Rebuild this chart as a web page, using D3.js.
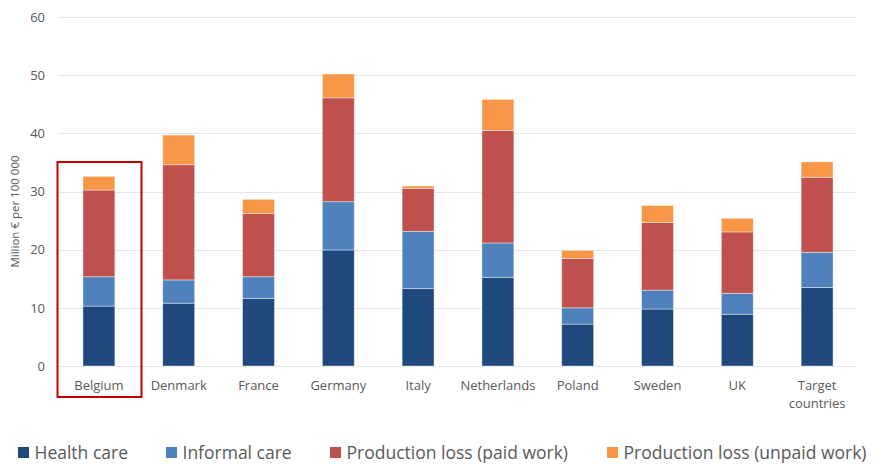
<!DOCTYPE html>
<html>
<head>
<meta charset="utf-8">
<script src="https://cdn.jsdelivr.net/npm/d3@7"></script>
<style>
  html, body { margin: 0; padding: 0; background: #fff; }
  svg { display: block; font-family: "Open Sans", "Liberation Sans", sans-serif; }
</style>
</head>
<body>
<div id="chart"></div>
<script>
// Data (segment values, million € per 100 000)
const categories = ['Belgium', 'Denmark', 'France', 'Germany', 'Italy', 'Netherlands', 'Poland', 'Sweden', 'UK', 'Target countries'];
const healthCare = [10.3, 10.8, 11.6, 19.95, 13.3, 15.25, 7.2, 9.8, 8.9, 13.5];
const informalCare = [5.05, 4.0, 3.75, 8.3, 9.85, 5.9, 2.8, 3.25, 3.6, 6.05];
const paidWork = [14.9, 19.8, 10.9, 17.85, 7.4, 19.35, 8.5, 11.6, 10.55, 12.9];
const unpaidWork = [2.35, 5.1, 2.4, 4.1, 0.4, 5.35, 1.4, 2.95, 2.35, 2.65];
const seriesNames = ['Health care', 'Informal care', 'Production loss (paid work)', 'Production loss (unpaid work)'];
const yTicks = [0, 10, 20, 30, 40, 50, 60];

const W = 873, H = 464;
const margin = { top: 17, right: 16, bottom: 98, left: 59 };
const colors = ['#1f497d', '#4f81bd', '#c0504d', '#f79646'];

const svg = d3.select('#chart').append('svg').attr('width', W).attr('height', H);

const x = d3.scaleBand()
    .domain(categories)
    .range([margin.left, W - margin.right])
    .paddingInner(0.6)
    .paddingOuter(0.3);

const y = d3.scaleLinear()
    .domain([0, 60])
    .range([H - margin.bottom, margin.top]);

// gridlines
svg.append('g')
    .selectAll('line')
    .data(yTicks)
    .join('line')
    .attr('x1', margin.left - 1)
    .attr('x2', W - margin.right - 2)
    .attr('y1', d => Math.round(y(d)) + 0.5)
    .attr('y2', d => Math.round(y(d)) + 0.5)
    .attr('stroke', '#e6e6e6')
    .attr('stroke-width', 1.2);

// y tick labels
svg.append('g')
    .selectAll('text')
    .data(yTicks)
    .join('text')
    .attr('x', 45)
    .attr('y', d => y(d))
    .attr('dy', '0.36em')
    .attr('text-anchor', 'end')
    .attr('font-size', 13)
    .attr('fill', '#595959')
    .text(d => d);

// y axis title
svg.append('text')
    .attr('transform', `translate(19,${(y(0) + y(60)) / 2 + 20}) rotate(-90)`)
    .attr('text-anchor', 'middle')
    .attr('font-size', 11.5)
    .attr('fill', '#595959')
    .text('Million € per 100 000');

// stacked bars
const rows = categories.map((c, i) => ({
    cat: c, s0: healthCare[i], s1: informalCare[i], s2: paidWork[i], s3: unpaidWork[i]
}));
const stack = d3.stack().keys(['s0', 's1', 's2', 's3']);
const layers = stack(rows);

svg.append('g')
    .selectAll('g')
    .data(layers)
    .join('g')
    .attr('fill', (d, i) => colors[i])
    .selectAll('rect')
    .data(d => d)
    .join('rect')
    .attr('x', d => x(d.data.cat))
    .attr('width', x.bandwidth())
    .attr('y', d => y(d[1]))
    .attr('height', d => y(d[0]) - y(d[1]))
    .attr('stroke', '#ffffff')
    .attr('stroke-opacity', 0.5)
    .attr('stroke-width', 0.8);

// x labels
const xl = svg.append('g')
    .selectAll('text')
    .data(categories)
    .join('text')
    .attr('x', d => x(d) + x.bandwidth() / 2)
    .attr('y', 390)
    .attr('text-anchor', 'middle')
    .attr('font-size', 13)
    .attr('fill', '#595959');
xl.each(function (d) {
    const words = d === 'Target countries' ? ['Target', 'countries'] : [d];
    d3.select(this).selectAll('tspan')
        .data(words)
        .join('tspan')
        .attr('x', x(d) + x.bandwidth() / 2)
        .attr('dy', (w, j) => j === 0 ? 0 : 17.5)
        .text(w => w);
});

// highlight box around Belgium
svg.append('rect')
    .attr('x', 57.5)
    .attr('y', 162)
    .attr('width', 84)
    .attr('height', 235)
    .attr('fill', 'none')
    .attr('stroke', '#c00000')
    .attr('stroke-width', 2);

// legend
const legendX = [18, 166, 330, 607];
const lg = svg.append('g')
    .selectAll('g')
    .data(seriesNames)
    .join('g')
    .attr('transform', (d, i) => `translate(${legendX[i]},452.5)`);
lg.append('rect')
    .attr('x', 0)
    .attr('y', -5.5)
    .attr('width', 11)
    .attr('height', 11)
    .attr('fill', (d, i) => colors[i]);
lg.append('text')
    .attr('x', 16.5)
    .attr('y', 0)
    .attr('dy', '0.35em')
    .attr('font-size', 17.5)
    .attr('fill', '#595959')
    .text(d => d);
</script>
</body>
</html>
